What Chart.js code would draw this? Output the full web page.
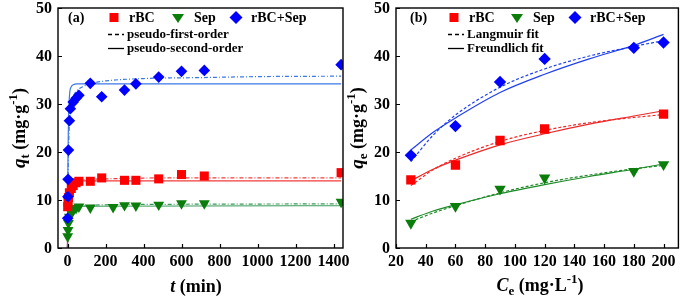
<!DOCTYPE html>
<html>
<head>
<meta charset="utf-8">
<script src="https://cdn.jsdelivr.net/npm/chart.js@4.4.0/dist/chart.umd.min.js"></script>
<style>
  html, body { margin: 0; padding: 0; background: #fff; }
  #wrap { position: relative; width: 685px; height: 299px; overflow: hidden; }
  #chartA { position: absolute; left: 0; top: 0; }
  #chartB { position: absolute; left: 345px; top: 0; }
</style>
</head>
<body>
<div id="wrap">
  <canvas id="chartA" width="360" height="299"></canvas>
  <canvas id="chartB" width="340" height="299"></canvas>
</div>
<script>
// ---- shared ticks ----
const yTicks = [0, 10, 20, 30, 40, 50];
const xTicksA = [0, 200, 400, 600, 800, 1000, 1200, 1400];
const xTicksB = [20, 40, 60, 80, 100, 120, 140, 160, 180, 200];

// ---- (a) kinetics: measured points ----
const tRBC = [1, 3, 5, 10, 20, 30, 45, 60, 120, 180, 300, 360, 480, 600, 720, 1440];
const qtRBC = [8.6, 9.6, 10.5, 11.5, 12.4, 13.0, 13.6, 13.9, 13.9, 14.6, 14.1, 14.1, 14.4, 15.3, 15.0, 15.7];
const tSep = [1, 3, 5, 10, 20, 30, 45, 60, 120, 240, 300, 360, 480, 600, 720, 1440];
const qtSep = [2.4, 3.7, 5.2, 6.5, 7.3, 7.9, 8.3, 8.6, 8.4, 8.5, 8.9, 8.8, 9.0, 9.3, 9.3, 9.6];
const tMix = [1, 2, 3, 5, 10, 15, 30, 45, 60, 120, 180, 300, 360, 480, 600, 720, 1440];
const qtMix = [6.2, 10.7, 14.3, 20.4, 26.5, 29.0, 30.4, 31.2, 31.8, 34.3, 31.5, 32.9, 34.2, 35.6, 36.8, 37.0, 38.2];

// ---- (a) fitted curves ----
const fitT_RBC_pfo = [0, 1, 3, 5, 10, 20, 40, 80, 200, 500, 1440];
const fitQ_RBC_pfo = [0, 5, 9.5, 11.2, 12.6, 13.4, 13.9, 14.2, 14.4, 14.6, 14.6];
const fitT_RBC_pso = [0, 1, 2, 3, 5, 10, 20, 40, 1440];
const fitQ_RBC_pso = [0, 7, 10, 11.5, 12.8, 13.6, 13.9, 14.0, 14.0];
const fitT_Sep_pfo = [0, 1, 3, 5, 10, 20, 40, 80, 200, 500, 1440];
const fitQ_Sep_pfo = [0, 1.5, 3.7, 5.0, 6.5, 7.6, 8.3, 8.7, 9.0, 9.1, 9.2];
const fitT_Sep_pso = [0, 1, 3, 5, 10, 20, 40, 80, 1440];
const fitQ_Sep_pso = [0, 2.0, 4.3, 5.6, 7.1, 8.0, 8.5, 8.7, 8.8];
const fitT_Mix_pfo = [0, 1, 2, 3, 5, 8, 12, 20, 30, 50, 80, 120, 200, 400, 700, 1000, 1440];
const fitQ_Mix_pfo = [0, 6, 11, 15, 20, 24, 27, 30, 31.5, 32.8, 33.6, 34.2, 34.8, 35.3, 35.5, 35.7, 35.8];
const fitT_Mix_pso = [0, 1, 2, 3, 5, 8, 12, 20, 30, 50, 100, 1440];
const fitQ_Mix_pso = [0, 8, 15, 20, 26, 30, 32.5, 33.6, 34.0, 34.2, 34.2, 34.2];

// ---- (b) isotherms: measured points ----
const ceRBC = [30, 60, 90, 120, 200];
const qeRBC = [14.2, 17.3, 22.4, 24.8, 27.9];
const ceSep = [30, 60, 90, 120, 180, 200];
const qeSep = [5.2, 8.7, 12.3, 14.6, 16.0, 17.4];
const ceMix = [30, 60, 90, 120, 180, 200];
const qeMix = [19.3, 25.4, 34.6, 39.4, 41.7, 42.8];

// ---- (b) fitted curves ----
const fitCe = [30, 45, 60, 90, 120, 150, 180, 200];
const langRBC = [13.0, 16.3, 18.7, 22.2, 24.5, 26.1, 27.2, 27.8];
const freuRBC = [14.0, 16.4, 18.3, 21.5, 23.8, 25.8, 27.5, 28.6];
const langSep = [5.5, 7.3, 8.8, 11.5, 13.6, 15.2, 16.5, 17.2];
const freuSep = [6.0, 7.7, 9.0, 11.3, 13.2, 14.9, 16.4, 17.5];
const langMix = [18.0, 23.5, 27.7, 33.5, 37.3, 40.0, 42.0, 43.2];
const freuMix = [20.4, 24.1, 27.1, 32.4, 36.2, 39.4, 42.2, 44.5];

const FONT = '"Liberation Serif", "Times New Roman", serif';
const RED = '#ff0000', GREEN = '#0a7d0a', BLUE = '#0000ff';

function pts(xs, ys) { return xs.map((x, i) => ({ x: x, y: ys[i] })); }

function marks(label, xs, ys, color, style, r, rot, order) {
  return {
    label: label, data: pts(xs, ys),
    backgroundColor: color, borderColor: color, borderWidth: 0,
    pointStyle: style, pointRadius: r, pointHoverRadius: r, pointRotation: rot,
    showLine: false, order: order
  };
}

function curve(xs, ys, color, dash) {
  return {
    data: pts(xs, ys), showLine: true, borderColor: color, borderWidth: 1.2,
    borderDash: dash, pointRadius: 0, cubicInterpolationMode: 'monotone',
    fill: false, order: 5
  };
}

// text made of pieces (italic symbol, subscript, superscript)
function drawRuns(ctx, runs, cx, cy) {
  let total = 0;
  runs.forEach(r => {
    ctx.font = (r.it ? 'italic ' : '') + 'bold ' + r.size + 'px ' + FONT;
    r.w = ctx.measureText(r.text).width;
    total += r.w;
  });
  let x = cx - total / 2;
  runs.forEach(r => {
    ctx.font = (r.it ? 'italic ' : '') + 'bold ' + r.size + 'px ' + FONT;
    ctx.fillText(r.text, x, cy + (r.dy || 0));
    x += r.w;
  });
}

function marker(ctx, style, x, y, r, color) {
  ctx.fillStyle = color;
  ctx.beginPath();
  if (style === 'rect') {
    ctx.rect(x - r, y - r, 2 * r, 2 * r);
  } else if (style === 'tri') {
    ctx.moveTo(x - r, y - r * 0.6); ctx.lineTo(x + r, y - r * 0.6); ctx.lineTo(x, y + r * 0.9);
  } else {
    ctx.moveTo(x, y - r); ctx.lineTo(x + r, y); ctx.lineTo(x, y + r); ctx.lineTo(x - r, y);
  }
  ctx.closePath();
  ctx.fill();
}

const decor = {
  id: 'decor',
  afterDraw(chart, args, o) {
    const ctx = chart.ctx, a = chart.chartArea, sx = chart.scales.x, sy = chart.scales.y;
    ctx.save();
    // frame + inward ticks
    ctx.strokeStyle = '#000';
    ctx.lineWidth = 1.4;
    ctx.strokeRect(a.left, a.top, a.right - a.left, a.bottom - a.top);
    ctx.lineWidth = 1.2;
    ctx.beginPath();
    sx.ticks.forEach(t => {
      const p = Math.round(sx.getPixelForValue(t.value)) + 0.5;
      ctx.moveTo(p, a.bottom); ctx.lineTo(p, a.bottom - 4);
    });
    sy.ticks.forEach(t => {
      const p = Math.round(sy.getPixelForValue(t.value)) + 0.5;
      ctx.moveTo(a.left, p); ctx.lineTo(a.left + 4, p);
    });
    ctx.stroke();

    // tick labels (bold serif)
    ctx.fillStyle = '#000';
    ctx.font = 'bold 16px ' + FONT;
    ctx.textAlign = 'center';
    ctx.textBaseline = 'top';
    sx.ticks.forEach(t => {
      ctx.fillText(String(t.value), sx.getPixelForValue(t.value), a.bottom + 6);
    });
    ctx.textAlign = 'right';
    ctx.textBaseline = 'middle';
    sy.ticks.forEach(t => {
      ctx.fillText(String(t.value), a.left - 6, sy.getPixelForValue(t.value) + 1);
    });
    ctx.textAlign = 'left';
    ctx.textBaseline = 'alphabetic';

    // x title
    drawRuns(ctx, o.xTitle, o.xTitleAt[0], o.xTitleAt[1]);
    // y title, rotated
    ctx.save();
    ctx.translate(o.yTitleAt[0], o.yTitleAt[1]);
    ctx.rotate(-Math.PI / 2);
    drawRuns(ctx, o.yTitle, 0, 6);
    ctx.restore();

    // legend
    const L = a.left, T = a.top, g = o.leg;
    ctx.fillStyle = '#000';
    ctx.font = 'bold 14px ' + FONT;
    ctx.fillText(o.panel, L + g.panel, T + 14);
    marker(ctx, 'rect', L + g.sq, T + 9.5, 4.5, RED);
    ctx.fillStyle = '#000';
    ctx.fillText('rBC', L + g.sq + 15, T + 14);
    marker(ctx, 'tri', L + g.tri, T + 9.5, 6, GREEN);
    ctx.fillStyle = '#000';
    ctx.fillText('Sep', L + g.tri + 16, T + 14);
    marker(ctx, 'dia', L + g.dia, T + 9.5, 6.5, BLUE);
    ctx.fillStyle = '#000';
    ctx.fillText('rBC+Sep', L + g.dia + 15, T + 14);

    ctx.font = 'bold 13px ' + FONT;
    ctx.strokeStyle = '#000';
    ctx.lineWidth = 1.3;
    ctx.beginPath();
    ctx.setLineDash([4, 3]);
    ctx.moveTo(L + g.line, T + 26.5); ctx.lineTo(L + g.line + 16, T + 26.5);
    ctx.stroke();
    ctx.setLineDash([]);
    ctx.beginPath();
    ctx.moveTo(L + g.line, T + 40.5); ctx.lineTo(L + g.line + 16, T + 40.5);
    ctx.stroke();
    ctx.fillText(o.dashName, L + g.line + 19, T + 30);
    ctx.fillText(o.solidName, L + g.line + 19, T + 44);
    ctx.restore();
  }
};

function axes(min, max, xt, yWidth) {
  return {
    x: {
      type: 'linear', min: min, max: max,
      grid: { display: false }, border: { display: false },
      ticks: { display: false },
      afterBuildTicks: s => { s.ticks = xt.map(v => ({ value: v })); },
      afterFit: s => { s.height = 51; }
    },
    y: {
      type: 'linear', min: 0, max: 50,
      grid: { display: false }, border: { display: false },
      ticks: { display: false },
      afterBuildTicks: s => { s.ticks = yTicks.map(v => ({ value: v })); },
      afterFit: s => { s.width = yWidth; }
    }
  };
}

const base = {
  responsive: false, animation: false, devicePixelRatio: 1,
  plugins: { legend: { display: false }, tooltip: { enabled: false } }
};

const dashA = [4, 2, 1, 2];
const blueFitA = '#3c78e6', redFitA = '#f23c3c', greenFitA = '#3a9a5a';

new Chart(document.getElementById('chartA'), {
  type: 'scatter',
  data: {
    datasets: [
      marks('rBC+Sep', tMix, qtMix, BLUE, 'rectRot', 5.8, 0, 0),
      marks('rBC', tRBC, qtRBC, RED, 'rect', 6.4, 0, 1),
      marks('Sep', tSep, qtSep, GREEN, 'triangle', 6.3, 180, 2),
      curve(fitT_RBC_pfo, fitQ_RBC_pfo, redFitA, dashA),
      curve(fitT_RBC_pso, fitQ_RBC_pso, redFitA, []),
      curve(fitT_Sep_pfo, fitQ_Sep_pfo, greenFitA, dashA),
      curve(fitT_Sep_pso, fitQ_Sep_pso, greenFitA, []),
      curve(fitT_Mix_pfo, fitQ_Mix_pfo, blueFitA, dashA),
      curve(fitT_Mix_pso, fitQ_Mix_pso, blueFitA, [])
    ]
  },
  options: Object.assign({}, base, {
    layout: { padding: { left: 0, top: 8, right: 17, bottom: 0 } },
    scales: axes(-50, 1450, xTicksA, 58),
    plugins: Object.assign({}, base.plugins, {
      decor: {
        panel: '(a)',
        leg: { panel: 10, sq: 56, tri: 120, dia: 178, line: 50 },
        dashName: 'pseudo-first-order', solidName: 'pseudo-second-order',
        xTitle: [{ text: 't', it: true, size: 18 }, { text: ' (min)', size: 18 }],
        xTitleAt: [196, 292],
        yTitle: [{ text: 'q', it: true, size: 19 }, { text: 't', size: 13, dy: 4 },
                 { text: ' (mg·g', size: 18 }, { text: '-1', size: 13, dy: -8 }, { text: ')', size: 18 }],
        yTitleAt: [19, 128]
      }
    })
  }),
  plugins: [decor]
});

const dashB = [3, 2];
const blueFitB = '#2040f0', redFitB = '#f02828', greenFitB = '#1e8a28';

new Chart(document.getElementById('chartB'), {
  type: 'scatter',
  data: {
    datasets: [
      marks('rBC+Sep', ceMix, qeMix, BLUE, 'rectRot', 6.2, 0, 0),
      marks('rBC', ceRBC, qeRBC, RED, 'rect', 6.6, 0, 1),
      marks('Sep', ceSep, qeSep, GREEN, 'triangle', 6.6, 180, 2),
      curve(fitCe, langRBC, redFitB, dashB),
      curve(fitCe, freuRBC, redFitB, []),
      curve(fitCe, langSep, greenFitB, dashB),
      curve(fitCe, freuSep, greenFitB, []),
      curve(fitCe, langMix, blueFitB, dashB),
      curve(fitCe, freuMix, blueFitB, [])
    ]
  },
  options: Object.assign({}, base, {
    layout: { padding: { left: 0, top: 8, right: 2, bottom: 0 } },
    scales: axes(20, 210, xTicksB, 51),
    plugins: Object.assign({}, base.plugins, {
      decor: {
        panel: '(b)',
        leg: { panel: 14, sq: 58, tri: 121, dia: 179, line: 52 },
        dashName: 'Langmuir fit', solidName: 'Freundlich fit',
        xTitle: [{ text: 'C', it: true, size: 18 }, { text: 'e', size: 13, dy: 4 },
                 { text: ' (mg·L', size: 18 }, { text: '-1', size: 13, dy: -8 }, { text: ')', size: 18 }],
        xTitleAt: [195, 291],
        yTitle: [{ text: 'q', it: true, size: 19 }, { text: 'e', size: 13, dy: 4 },
                 { text: ' (mg·g', size: 18 }, { text: '-1', size: 13, dy: -8 }, { text: ')', size: 18 }],
        yTitleAt: [12, 128]
      }
    })
  }),
  plugins: [decor]
});
</script>
</body>
</html>
